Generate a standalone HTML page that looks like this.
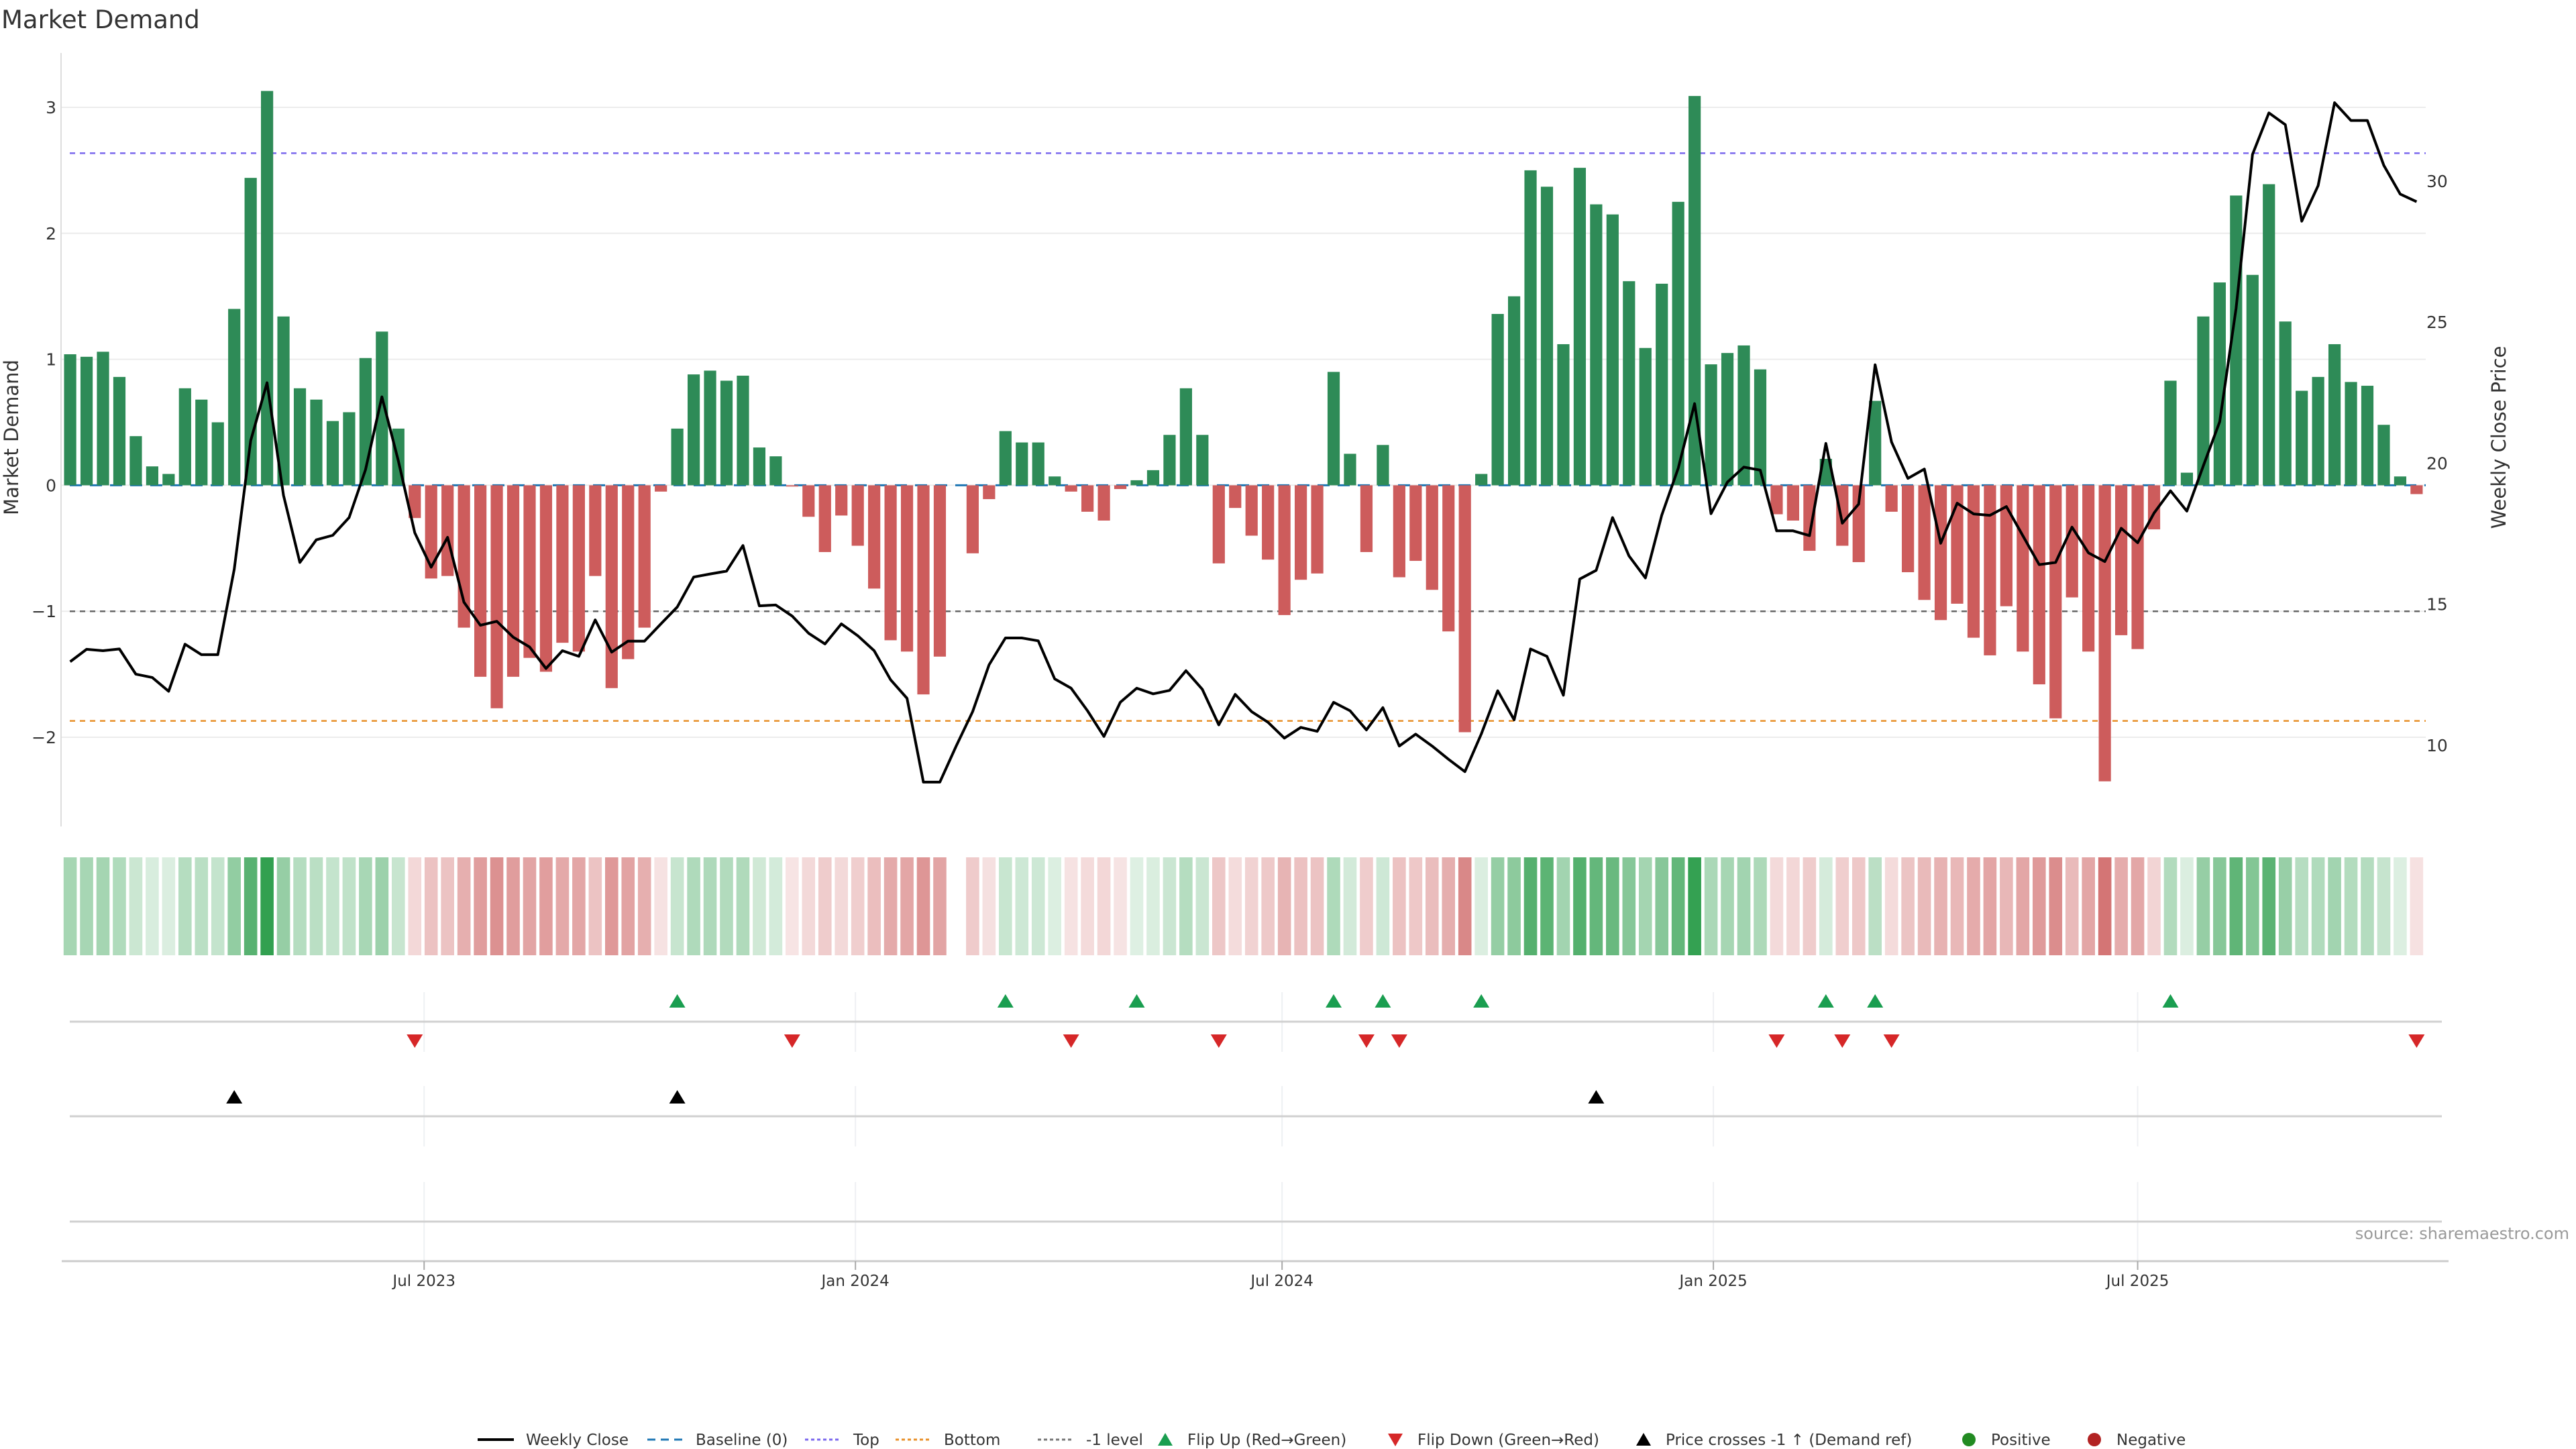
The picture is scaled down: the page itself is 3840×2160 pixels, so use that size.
<!DOCTYPE html>
<html><head><meta charset="utf-8"><title>Market Demand</title>
<style>
html,body{margin:0;padding:0;background:#fff;}
svg{display:block;font-family:"DejaVu Sans","Liberation Sans",sans-serif;}
</style></head>
<body>
<svg id="chart" xmlns="http://www.w3.org/2000/svg" width="3840" height="2160" viewBox="0 0 3840 2160">
<rect x="0" y="0" width="3840" height="2160" fill="#fff"/>
<text x="2" y="42" font-size="37" fill="#333">Market Demand</text>
<text transform="translate(27,652) rotate(-90)" text-anchor="middle" font-size="29" fill="#333">Market Demand</text>
<text transform="translate(3735,652) rotate(-90)" text-anchor="middle" font-size="29" fill="#333">Weekly Close Price</text>
<text x="3830" y="1847" text-anchor="end" font-size="24" fill="#999">source: sharemaestro.com</text>
<g id="grid"></g><g id="refs"></g><g id="bars"></g><g id="line"></g><g id="heat"></g><g id="events"></g><g id="axes"></g><g id="legend"></g>
</svg>
<script>
const demand = [1.04,1.02,1.06,0.86,0.39,0.15,0.09,0.77,0.68,0.50,
1.40,2.44,3.13,1.34,0.77,0.68,0.51,0.58,1.01,1.22,
0.45,-0.26,-0.74,-0.72,-1.13,-1.52,-1.77,-1.52,-1.37,-1.48,
-1.25,-1.32,-0.72,-1.61,-1.38,-1.13,-0.05,0.45,0.88,0.91,
0.83,0.87,0.30,0.23,-0.01,-0.25,-0.53,-0.24,-0.48,-0.82,
-1.23,-1.32,-1.66,-1.36,null,-0.54,-0.11,0.43,0.34,0.34,
0.07,-0.05,-0.21,-0.28,-0.03,0.04,0.12,0.40,0.77,0.40,
-0.62,-0.18,-0.40,-0.59,-1.03,-0.75,-0.70,0.90,0.25,-0.53,
0.32,-0.73,-0.60,-0.83,-1.16,-1.96,0.09,1.36,1.50,2.50,
2.37,1.12,2.52,2.23,2.15,1.62,1.09,1.60,2.25,3.09,
0.96,1.05,1.11,0.92,-0.23,-0.28,-0.52,0.21,-0.48,-0.61,
0.67,-0.21,-0.69,-0.91,-1.07,-0.94,-1.21,-1.35,-0.96,-1.32,
-1.58,-1.85,-0.89,-1.32,-2.35,-1.19,-1.30,-0.35,0.83,0.10,
1.34,1.61,2.30,1.67,2.39,1.30,0.75,0.86,1.12,0.82,
0.79,0.48,0.07,-0.07];
const price = [12.96,13.40,13.35,13.41,12.52,12.40,11.91,13.58,13.21,13.21,
16.24,20.8,22.85,18.86,16.48,17.28,17.44,18.07,19.77,22.35,
20.08,17.53,16.31,17.37,15.07,14.25,14.39,13.83,13.48,12.72,
13.35,13.15,14.44,13.30,13.69,13.69,14.3,14.9,15.96,16.07,
16.17,17.08,14.94,14.97,14.58,13.97,13.59,14.30,13.88,13.35,
12.32,11.66,8.69,8.69,9.97,11.19,12.85,13.80,13.80,13.70,
12.35,12.02,11.22,10.31,11.52,12.02,11.82,11.94,12.64,11.98,
10.72,11.80,11.19,10.81,10.25,10.63,10.49,11.52,11.22,10.54,
11.33,9.97,10.39,9.97,9.50,9.06,10.40,11.93,10.9,13.41,
13.15,11.77,15.89,16.20,18.07,16.71,15.93,18.16,19.82,22.11,
18.21,19.33,19.86,19.75,17.60,17.60,17.43,20.7,17.87,18.55,
23.49,20.75,19.46,19.79,17.16,18.58,18.20,18.15,18.46,17.43,
16.40,16.48,17.73,16.82,16.51,17.69,17.18,18.23,19.02,18.30,
19.90,21.47,25.49,30.95,32.42,32.0,28.58,29.84,32.78,32.15,
32.15,30.56,29.54,29.27];
const crossIdx = [10,37,93];
const leftTicks = [-2,-1,0,1,2,3];
const rightTicks = [10,15,20,25,30];
const refLevels = [2.636,-1.87,-1];
const refNames = ['top-line','bottom-line','minus-one-level'];
const xTickLabels = ['Jul 2023','Jan 2024','Jul 2024','Jan 2025','Jul 2025'];
const xTickDates = ['2023-07-01','2024-01-01','2024-07-01','2025-01-01','2025-07-01'];

const NS='http://www.w3.org/2000/svg';
function mk(parent,tag,attrs){const e=document.createElementNS(NS,tag);for(const k in attrs)e.setAttribute(k,attrs[k]);document.getElementById(parent).appendChild(e);return e;}
const X0=104.6, STEP=24.46, BW=18.2;
const xs=i=>X0+STEP*i;
const ys=v=>723.4-v*187.8;
const yp=p=>690.4-(p-20)*42.04;
const d0=new Date('2023-01-31').getTime();
const xd=s=>X0+(new Date(s).getTime()-d0)/86400000/7*STEP;
const PL=91, PR=3616;

// grid + left ticks
leftTicks.forEach(t=>{
  let g=mk('grid','line',{x1:PL,x2:PR,y1:ys(t),y2:ys(t),stroke:'#ececec','stroke-width':2});
  
  
  let tx=mk('axes','text',{x:84,y:ys(t)+9,'text-anchor':'end','font-size':25,fill:'#333'});
  tx.textContent=t<0?'\u2212'+Math.abs(t):String(t);
  
  
});
rightTicks.forEach(t=>{
  let tx=mk('axes','text',{x:3617,y:yp(t)+9,'font-size':25,fill:'#333'});
  tx.textContent=String(t);
  
  
});
let la=mk('axes','line',{x1:PL,x2:PL,y1:79,y2:1232,stroke:'#ddd','stroke-width':2});



// reference lines
const refColors=['#7b68ee','#e8902a','#666'];
refLevels.forEach((v,i)=>{
  let l=mk('refs','line',{x1:104,x2:PR,y1:ys(v),y2:ys(v),stroke:refColors[i],'stroke-width':2.5,'stroke-dasharray':'8,7'});
  
  
});

// bars
demand.forEach((v,i)=>{
  if(v===null)return;
  const y=Math.min(ys(v),ys(0)), h=Math.abs(ys(v)-ys(0));
  let r=mk('bars','rect',{x:xs(i)-BW/2,y:y,width:BW,height:Math.max(h,0.5),fill:v>=0?'#2e8b57':'#cd5c5c'});
  
  
});
// baseline dashes
let bl=mk('refs','line',{x1:104,x2:PR,y1:ys(0),y2:ys(0),stroke:'#1f77b4','stroke-width':3,'stroke-dasharray':'18,12'});



// price line
let d='';price.forEach((p,i)=>{d+=(i?'L':'M')+xs(i).toFixed(1)+','+yp(p).toFixed(1);});
let pl=mk('line','path',{d:d,fill:'none',stroke:'#000','stroke-width':4,'stroke-linejoin':'round'});



// heatmap
const maxA=Math.max(...demand.filter(v=>v!==null).map(Math.abs));
demand.forEach((v,i)=>{
  if(v===null)return;
  const t=0.15+0.85*Math.abs(v)/maxA;
  let c=v>=0?[255-205*t,255-95*t,255-175*t]:[255-55*t,255-175*t,255-175*t];
  let r=mk('heat','rect',{x:xs(i)-9.8,y:1278,width:19.6,height:146,fill:'rgb('+c.map(Math.round).join(',')+')'});
  
  
});

// event panels
[[1479,1568],[1619,1709],[1762,1880]].forEach(rg=>{
  xTickDates.forEach(s=>{
    let g=mk('grid','line',{x1:xd(s),x2:xd(s),y1:rg[0],y2:rg[1],stroke:'#eef0f3','stroke-width':2});
    
    
  });
});
[1523,1664,1821].forEach(y=>{
  let l=mk('events','line',{x1:104,x2:3640,y1:y,y2:y,stroke:'#d0d0d0','stroke-width':3});
  
  
});
function tri(x,y,up,col,name){
  const s=12;
  const pts=up?[[x-s,y+9],[x+s,y+9],[x,y-11]]:[[x-s,y-9],[x+s,y-9],[x,y+11]];
  let p=mk('events','polygon',{points:pts.map(q=>q.join(',')).join(' '),fill:col});
  
  
}
for(let i=1;i<demand.length;i++){
  let a=null;for(let j=i-1;j>=0;j--){if(demand[j]!==null){a=demand[j];break;}}
  const b=demand[i]; if(a===null||b===null)continue;
  if(a<0&&b>=0)tri(xs(i),1493,true,'#1a9e50','flip-up-marker');
  if(a>=0&&b<0)tri(xs(i),1551,false,'#d62728','flip-down-marker');
}
crossIdx.forEach(i=>tri(xs(i),1636,true,'#000','price-cross-marker'));

// x axis
let xa=mk('axes','line',{x1:92,x2:3650,y1:1880,y2:1880,stroke:'#ccc','stroke-width':3});


xTickDates.forEach((s,i)=>{
  let tk=mk('axes','line',{x1:xd(s),x2:xd(s),y1:1880,y2:1893,stroke:'#aaa','stroke-width':2});
  
  
  let tx=mk('axes','text',{x:xd(s),y:1917,'text-anchor':'middle','font-size':23,fill:'#333'});
  tx.textContent=xTickLabels[i];
  
  
});

// legend
const legLabels=['Weekly Close','Baseline (0)','Top','Bottom','-1 level','Flip Up (Red\u2192Green)','Flip Down (Green\u2192Red)','Price crosses -1 \u2191 (Demand ref)','Positive','Negative'];
const legX=[712,965,1200,1335,1547,1712,2055,2425,2910,3097];
const LY=2146;
legLabels.forEach((lab,i)=>{
  const x=legX[i];
  let sym;
  if(i<5){
    const st=[['#000',''],['#1f77b4','12,8'],['#7b68ee','5,4'],['#e8902a','5,4'],['#777','5,4']][i];
    sym=mk('legend','line',{x1:x,x2:x+54,y1:LY,y2:LY,stroke:st[0],'stroke-width':i?3:4,'stroke-dasharray':st[1]});
  } else if(i<8){
    const col=['#1a9e50','#d62728','#000'][i-5];const c=x+25;
    const pts=i===6?[[c-11,LY-9],[c+11,LY-9],[c,LY+10]]:[[c-11,LY+9],[c+11,LY+9],[c,LY-10]];
    sym=mk('legend','polygon',{points:pts.map(q=>q.join(',')).join(' '),fill:col});
  } else {
    sym=mk('legend','circle',{cx:x+25,cy:LY,r:10,fill:i===8?'#228b22':'#b22222'});
  }
  
  
  let tx=mk('legend','text',{x:x+(i<5?72:58),y:LY+8,'font-size':23,fill:'#333'});
  tx.textContent=lab;
  
  
});
</script>
</body></html>
